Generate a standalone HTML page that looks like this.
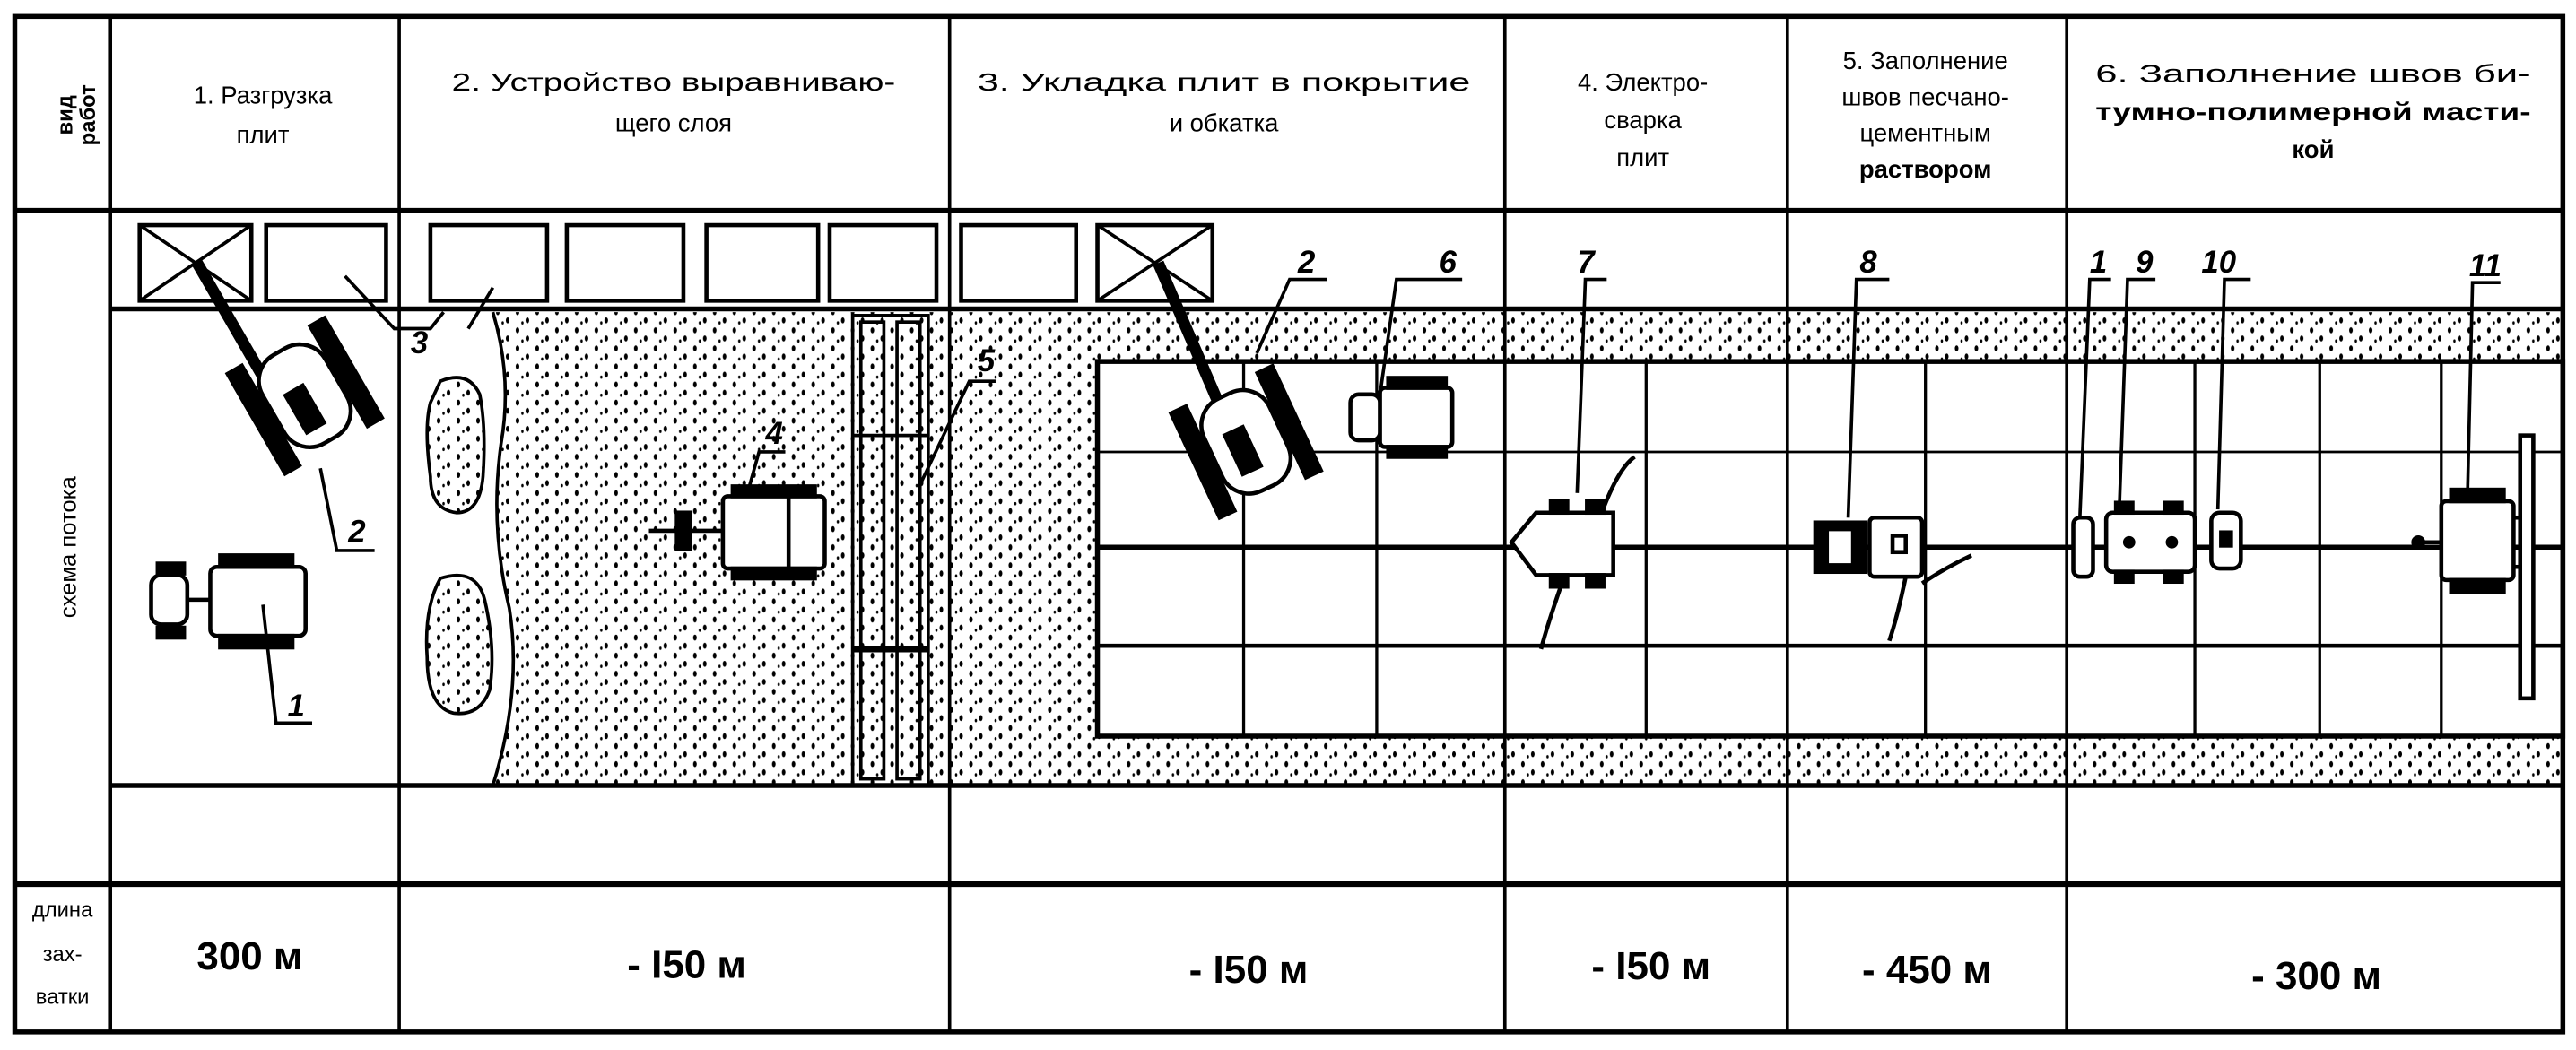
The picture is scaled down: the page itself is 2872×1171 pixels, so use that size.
<!DOCTYPE html>
<html><head><meta charset="utf-8">
<style>
html,body{margin:0;padding:0;background:#fff;}
svg{display:block;}
text{font-family:"Liberation Sans Narrow","Liberation Sans",sans-serif;fill:#000;}
</style></head><body>
<svg width="2872" height="1171" viewBox="0 0 1568 639" preserveAspectRatio="none" xmlns="http://www.w3.org/2000/svg">
<defs>
<pattern id="dots" width="12" height="11" patternUnits="userSpaceOnUse">
<ellipse cx="3" cy="3" rx="1.1" ry="1.8" fill="#000"/>
<ellipse cx="9" cy="8" rx="1.1" ry="1.8" fill="#000"/>
<ellipse cx="6" cy="9.5" rx="0.7" ry="1" fill="#000"/>
</pattern>
</defs>
<rect width="1568" height="639" fill="#fff"/>

<path d="M300,190 Q312,230 305,270 Q298,320 310,370 Q318,420 300,478 L578,478 L578,190 Z" fill="url(#dots)"/>
<rect x="578" y="190" width="982" height="288" fill="url(#dots)"/>
<rect x="668" y="220" width="892" height="228" fill="#fff"/>
<path d="M300,190 Q312,230 305,270 Q298,320 310,370 Q318,420 300,478" fill="none" stroke="#000" stroke-width="2"/>
<path d="M268,232 Q285,225 292,240 Q296,260 294,290 Q292,312 278,312 Q262,310 262,290 Q258,260 262,245 Z" fill="url(#dots)" stroke="#000" stroke-width="2"/>
<path d="M268,352 Q290,345 295,365 Q302,395 298,420 Q292,436 276,434 Q260,430 260,400 Q258,370 268,352 Z" fill="url(#dots)" stroke="#000" stroke-width="2"/>

<g stroke="#000" fill="none">
<rect x="668" y="220" width="892" height="228" stroke-width="3"/>
<line x1="668" y1="275" x2="1560" y2="275" stroke-width="1.5"/>
<line x1="668" y1="333" x2="1560" y2="333" stroke-width="3"/>
<line x1="668" y1="393" x2="1560" y2="393" stroke-width="2.5"/>
<g stroke-width="1.8">
<line x1="757" y1="220" x2="757" y2="448"/><line x1="838" y1="220" x2="838" y2="448"/>
<line x1="1002" y1="220" x2="1002" y2="448"/><line x1="1172" y1="220" x2="1172" y2="448"/>
<line x1="1336" y1="220" x2="1336" y2="448"/><line x1="1412" y1="220" x2="1412" y2="448"/>
<line x1="1486" y1="220" x2="1486" y2="448"/>
</g>
</g>

<g stroke="#000" fill="none" stroke-width="2">
<rect x="519" y="192" width="46" height="286"/>
<rect x="524" y="196" width="14" height="278"/>
<rect x="546" y="196" width="14" height="278"/>
<line x1="519" y1="265" x2="565" y2="265"/>
<line x1="519" y1="395" x2="565" y2="395" stroke-width="4"/>
</g>

<g stroke="#000" fill="none">
<rect x="9" y="10" width="1551" height="618" stroke-width="3"/>
<line x1="9" y1="128" x2="1560" y2="128" stroke-width="3"/>
<line x1="67" y1="188" x2="1560" y2="188" stroke-width="3"/>
<line x1="67" y1="478" x2="1560" y2="478" stroke-width="3"/>
<line x1="9" y1="538" x2="1560" y2="538" stroke-width="3.5"/>
<line x1="67" y1="10" x2="67" y2="628" stroke-width="2.5"/>
<line x1="243" y1="10" x2="243" y2="628" stroke-width="2"/>
<line x1="578" y1="10" x2="578" y2="628" stroke-width="2"/>
<line x1="916" y1="10" x2="916" y2="628" stroke-width="2"/>
<line x1="1088" y1="10" x2="1088" y2="628" stroke-width="2"/>
<line x1="1258" y1="10" x2="1258" y2="628" stroke-width="2"/>
</g>

<g stroke="#000" fill="#fff" stroke-width="2.5">
<rect x="85" y="137" width="68" height="46"/>
<rect x="162" y="137" width="73" height="46"/>
<rect x="262" y="137" width="71" height="46"/>
<rect x="345" y="137" width="71" height="46"/>
<rect x="430" y="137" width="68" height="46"/>
<rect x="505" y="137" width="65" height="46"/>
<rect x="585" y="137" width="70" height="46"/>
<rect x="668" y="137" width="70" height="46"/>
</g>
<g stroke="#000" stroke-width="2">
<line x1="85" y1="137" x2="153" y2="183"/><line x1="153" y1="137" x2="85" y2="183"/>
<line x1="668" y1="137" x2="738" y2="183"/><line x1="738" y1="137" x2="668" y2="183"/>
</g>

<g stroke="#000" fill="#fff" stroke-width="2.5">
<line x1="120" y1="160" x2="172" y2="250" stroke-width="7"/>
<g transform="translate(185,240) rotate(-30)">
<rect x="-22" y="-30" width="44" height="62" rx="18"/>
<rect x="-34" y="-34" width="10" height="70" fill="#000"/>
<rect x="24" y="-34" width="10" height="70" fill="#000"/>
<rect x="-10" y="-5" width="12" height="26" fill="#000"/>
</g>
</g>
<g stroke="#000" fill="#fff" stroke-width="2.5">
<rect x="92" y="350" width="22" height="30" rx="6"/>
<rect x="128" y="345" width="58" height="42" rx="4"/>
<rect x="96" y="343" width="16" height="6" fill="#000"/><rect x="96" y="382" width="16" height="6" fill="#000"/>
<rect x="134" y="338" width="44" height="7" fill="#000"/><rect x="134" y="387" width="44" height="7" fill="#000"/>
<line x1="114" y1="365" x2="128" y2="365"/>
</g>
<g stroke="#000" fill="#fff" stroke-width="2.5">
<line x1="395" y1="323" x2="440" y2="323"/>
<rect x="412" y="312" width="8" height="22" fill="#000"/>
<rect x="440" y="302" width="62" height="44" rx="3"/>
<rect x="446" y="296" width="50" height="6" fill="#000"/><rect x="446" y="346" width="50" height="6" fill="#000"/>
<line x1="480" y1="302" x2="480" y2="346"/>
</g>
<g stroke="#000" fill="#fff" stroke-width="2.5">
<line x1="705" y1="160" x2="748" y2="260" stroke-width="7"/>
<g transform="translate(758,268) rotate(-25)">
<rect x="-22" y="-30" width="44" height="62" rx="18"/>
<rect x="-34" y="-34" width="10" height="70" fill="#000"/>
<rect x="24" y="-34" width="10" height="70" fill="#000"/>
<rect x="-10" y="-8" width="12" height="26" fill="#000"/>
</g>
</g>
<g stroke="#000" fill="#fff" stroke-width="2.5">
<rect x="822" y="240" width="18" height="28" rx="5"/>
<rect x="840" y="236" width="44" height="36" rx="3"/>
<rect x="845" y="230" width="35" height="6" fill="#000"/><rect x="845" y="272" width="35" height="6" fill="#000"/>
</g>
<g stroke="#000" fill="#fff" stroke-width="2.5">
<path d="M920,330 L935,312 L982,312 L982,350 L935,350 Z"/>
<rect x="944" y="305" width="10" height="7" fill="#000"/><rect x="966" y="305" width="10" height="7" fill="#000"/>
<rect x="944" y="350" width="10" height="7" fill="#000"/><rect x="966" y="350" width="10" height="7" fill="#000"/>
<path d="M975,312 Q985,285 995,278" fill="none"/>
<path d="M950,357 Q942,380 938,395" fill="none"/>
</g>
<g stroke="#000" fill="#fff" stroke-width="2.5">
<rect x="1105" y="318" width="30" height="30" fill="#000"/>
<rect x="1112" y="322" width="16" height="22" fill="#fff"/>
<rect x="1138" y="315" width="32" height="36" rx="3"/>
<rect x="1152" y="326" width="8" height="10"/>
<path d="M1170,355 Q1185,345 1200,338" fill="none"/>
<path d="M1160,351 Q1155,375 1150,390" fill="none"/>
</g>
<g stroke="#000" fill="#fff" stroke-width="2.5">
<rect x="1262" y="315" width="12" height="36" rx="4"/>
<rect x="1282" y="312" width="54" height="36" rx="4"/>
<circle cx="1296" cy="330" r="2.5" fill="#000"/><circle cx="1322" cy="330" r="2.5" fill="#000"/>
<rect x="1288" y="306" width="10" height="6" fill="#000"/><rect x="1318" y="306" width="10" height="6" fill="#000"/>
<rect x="1288" y="348" width="10" height="6" fill="#000"/><rect x="1318" y="348" width="10" height="6" fill="#000"/>
<rect x="1346" y="312" width="18" height="34" rx="5"/>
<rect x="1352" y="324" width="6" height="8" fill="#000"/>
</g>
<g stroke="#000" fill="#fff" stroke-width="2.5">
<line x1="1472" y1="330" x2="1486" y2="330"/><circle cx="1472" cy="330" r="3" fill="#000"/>
<rect x="1486" y="305" width="44" height="48" rx="3"/>
<rect x="1492" y="298" width="32" height="7" fill="#000"/><rect x="1492" y="353" width="32" height="7" fill="#000"/>
<rect x="1534" y="265" width="8" height="160"/>
<line x1="1530" y1="315" x2="1534" y2="315"/><line x1="1530" y1="345" x2="1534" y2="345"/>
</g>

<g stroke="#000" fill="none" stroke-width="2">
<path d="M195,285 L205,335 L228,335"/>
<path d="M160,368 L168,440 L190,440"/>
<path d="M210,168 L240,200 L262,200 L270,190 M300,175 L285,200"/>
<path d="M455,300 L462,275 L478,275"/>
<path d="M560,295 L590,232 L606,232"/>
<path d="M765,215 L785,170 L808,170"/>
<path d="M840,240 L850,170 L890,170"/>
<path d="M960,300 L965,170 L978,170"/>
<path d="M1125,315 L1130,170 L1150,170"/>
<path d="M1266,315 L1272,170 L1285,170"/>
<path d="M1290,310 L1295,170 L1312,170"/>
<path d="M1350,310 L1354,170 L1370,170"/>
<path d="M1502,300 L1505,172 L1522,172"/>
</g>
<g font-weight="bold" font-style="italic" font-size="19">
<text x="212" y="330">2</text><text x="175" y="436">1</text>
<text x="250" y="215">3</text><text x="466" y="270">4</text>
<text x="595" y="226">5</text><text x="790" y="166">2</text>
<text x="876" y="166">6</text><text x="960" y="166">7</text>
<text x="1132" y="166">8</text><text x="1272" y="166">1</text>
<text x="1300" y="166">9</text><text x="1340" y="166">10</text>
<text x="1503" y="168">11</text>
</g>

<g font-size="15">
<text transform="translate(44,70) rotate(-90)" text-anchor="middle" font-size="13" font-weight="bold">вид</text>
<text transform="translate(58,70) rotate(-90)" text-anchor="middle" font-size="13" font-weight="bold">работ</text>
<text transform="translate(46,333) rotate(-90)" text-anchor="middle" font-size="14">схема потока</text>
<text x="160" y="63" text-anchor="middle">1. Разгрузка</text>
<text x="160" y="87" text-anchor="middle">плит</text>
<text x="410" y="55" text-anchor="middle" textLength="270" lengthAdjust="spacingAndGlyphs">2. Устройство  выравниваю-</text>
<text x="410" y="80" text-anchor="middle">щего слоя</text>
<text x="745" y="55" text-anchor="middle" textLength="300" lengthAdjust="spacingAndGlyphs">3. Укладка плит в покрытие</text>
<text x="745" y="80" text-anchor="middle">и обкатка</text>
<text x="1000" y="55" text-anchor="middle">4. Электро-</text>
<text x="1000" y="78" text-anchor="middle">сварка</text>
<text x="1000" y="101" text-anchor="middle">плит</text>
<text x="1172" y="42" text-anchor="middle">5. Заполнение</text>
<text x="1172" y="64" text-anchor="middle">швов песчано-</text>
<text x="1172" y="86" text-anchor="middle">цементным</text>
<text x="1172" y="108" text-anchor="middle" font-weight="bold">раствором</text>
<text x="1408" y="50" text-anchor="middle" textLength="265" lengthAdjust="spacingAndGlyphs">6. Заполнение швов би-</text>
<text x="1408" y="73" text-anchor="middle" textLength="265" lengthAdjust="spacingAndGlyphs" font-weight="bold">тумно-полимерной масти-</text>
<text x="1408" y="96" text-anchor="middle" font-weight="bold">кой</text>
</g>
<g font-size="13">
<text x="38" y="558" text-anchor="middle">длина</text>
<text x="38" y="585" text-anchor="middle">зах-</text>
<text x="38" y="611" text-anchor="middle">ватки</text>
</g>
<g font-size="24" font-weight="bold" text-anchor="middle">
<text x="152" y="590">300 м</text>
<text x="418" y="595">- I50 м</text>
<text x="760" y="598">- I50 м</text>
<text x="1005" y="596">- I50 м</text>
<text x="1173" y="598">- 450 м</text>
<text x="1410" y="602">- 300 м</text>
</g>
</svg>
</body></html>
